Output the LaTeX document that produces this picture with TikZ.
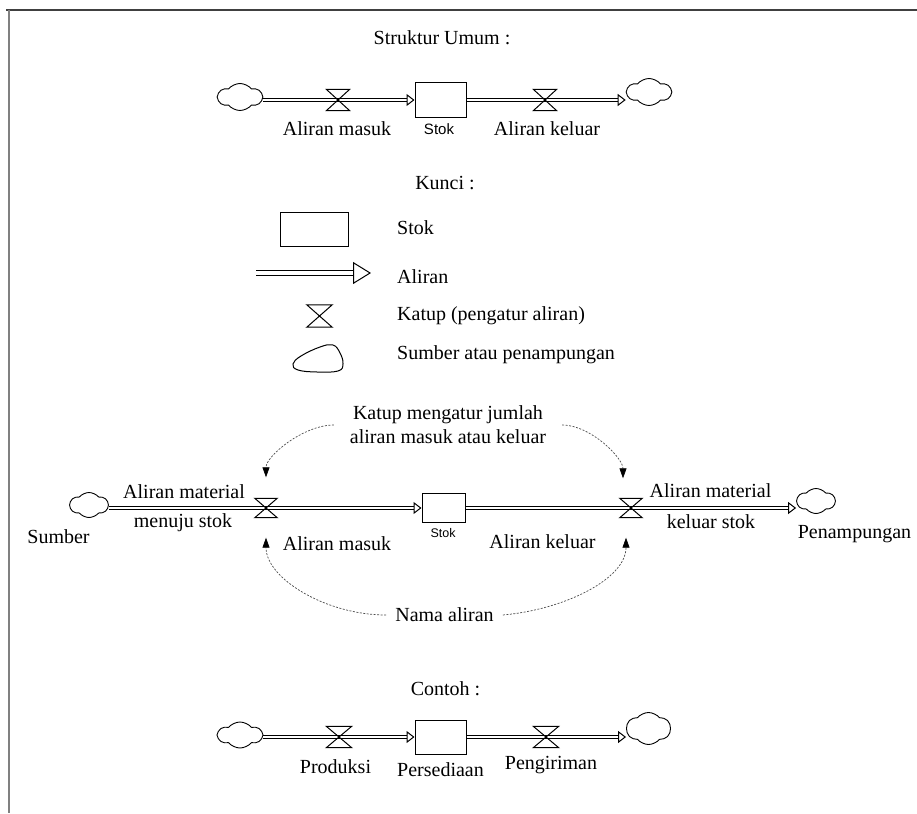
\documentclass[tikz,border=0pt]{standalone}
\usepackage{fontspec}
\setmainfont{Liberation Serif}
\setsansfont{Liberation Sans}
\usetikzlibrary{arrows.meta,shapes.symbols}
\tikzset{
  txt/.style={font=\fontsize{20}{24}\selectfont,inner sep=0pt},
  stoktxt/.style={font=\sffamily\fontsize{15}{18}\selectfont,inner sep=0pt},
  stokbox/.style={draw,line width=1pt,fill=white,inner sep=0pt},
  cloudy/.style={cloud,cloud puffs=6,cloud puff arc=100,aspect=1.6,draw,line width=0.9pt,inner sep=0pt,minimum width=44pt,minimum height=27pt},
  valve/.style={inner sep=0pt,minimum width=23pt,minimum height=21pt},
  pipe/.style={double,double distance=2pt,line width=1pt,-{Triangle[open,length=8pt,width=12pt]}},
  notearrow/.style={black!70,line width=0.7pt,dash pattern=on 2pt off 1.5pt,-{Triangle[color=black,length=10pt,width=7pt]}}
}
\begin{document}
\begin{tikzpicture}[x=1pt,y=-1pt]
  \useasboundingbox (0,0) rectangle (917,813);
  % frame
  \draw[line width=1.4pt,black!75] (6,10) -- (917,10);
  \draw[line width=2pt,gray] (9,10) -- (9,813);

  % Struktur umum
  \node[txt] (judul1) at (442,38) {Struktur Umum :};
  \node[cloudy] (sumber1) at (240,97) {};
  \node[stokbox,minimum width=51pt,minimum height=35pt] (stok1) at (440.5,100) {};
  \node[cloudy] (tampung1) at (649,92) {};
  \draw[pipe] (sumber1.east |- stok1) -- (stok1.west);
  \draw[pipe] (stok1.east) -- (tampung1.west |- stok1);
  \node[valve] (masuk1) at (338,100) {};
  \node[valve] (keluar1) at (545,100) {};
  \node[txt] at (337,129) {Aliran masuk};
  \node[stoktxt] at (439,129) {Stok};
  \node[txt] at (547,129) {Aliran keluar};

  % Kunci
  \node[txt] (judul2) at (445,183) {Kunci :};
  \node[stokbox,minimum width=68pt,minimum height=34pt] (kstok) at (314,229) {};
  \coordinate (kaliranA) at (256,273);
  \coordinate (kaliranB) at (371,273);
  \draw[double,double distance=4pt,line width=1pt,-{Triangle[open,length=18pt,width=22pt]}] (kaliranA) -- (kaliranB);
  \node[valve,minimum width=25pt,minimum height=22pt] (kkatup) at (319.5,316) {};
  \draw[line width=1pt] plot[smooth cycle,tension=0.7] coordinates {(293,364) (301,356) (320,347) (333,345) (340,353) (343,364) (338,371) (317,372) (298,370)};
  \node[txt,anchor=west] at (397,228) {Stok};
  \node[txt,anchor=west] at (397,277) {Aliran};
  \node[txt,anchor=west] at (397,316) {Katup (pengatur aliran)};
  \node[txt,anchor=west] at (397,355) {Sumber atau penampungan};

  % penjelasan
  \node[txt,align=center,inner sep=4pt] (katup) at (448,425) {Katup mengatur jumlah\\aliran masuk atau keluar};
  \node[cloudy,minimum width=38pt,minimum height=25pt] (sumber3) at (89,505) {};
  \node[stokbox,minimum width=43pt,minimum height=29pt] (stok3) at (443.5,508) {};
  \node[cloudy,minimum width=38pt,minimum height=25pt] (tampung3) at (816,501) {};
  \draw[pipe] (sumber3.east |- stok3) -- (stok3.west);
  \draw[pipe] (stok3.east) -- (tampung3.west |- stok3);
  \node[valve,minimum width=22pt,minimum height=19pt] (masuk3) at (266,508) {};
  \node[valve,minimum width=22pt,minimum height=19pt] (keluar3) at (631,508) {};
  \node[txt] at (184,492) {Aliran material};
  \node[txt] at (183,523) {menuju stok};
  \node[txt] at (58.5,537) {Sumber};
  \node[txt] at (337,544) {Aliran masuk};
  \node[stoktxt,font=\sffamily\fontsize{12.5}{15}\selectfont] at (443,533) {Stok};
  \node[txt] at (542.5,542) {Aliran keluar};
  \node[txt] at (710.5,491) {Aliran material};
  \node[txt] at (711,522) {keluar stok};
  \node[txt] at (854.5,534) {Penampungan};
  \node[txt,inner sep=9pt] (nama) at (444.5,615) {Nama aliran};
  \draw[notearrow,shorten <=12pt,shorten >=21pt] (katup.west) to[out=180,in=90] (masuk3.north);
  \draw[notearrow,shorten <=12pt,shorten >=20pt] (katup.east) to[out=0,in=90] ([xshift=-8pt]keluar3.north);
  \draw[notearrow,shorten >=20pt] (nama.west) to[out=180,in=-90] (masuk3.south);
  \draw[notearrow,shorten >=20pt] (nama.east) to[out=5,in=-90] ([xshift=-5pt]keluar3.south);

  % Contoh
  \node[txt] (judul3) at (445.5,689) {Contoh :};
  \node[cloudy,minimum height=26pt] (sumber4) at (240,735) {};
  \node[stokbox,minimum width=51pt,minimum height=34pt] (stok4) at (440.5,737) {};
  \node[cloudy,minimum height=32pt] (tampung4) at (648.5,728.5) {};
  \draw[pipe] (sumber4.east |- stok4) -- (stok4.west);
  \draw[pipe] (stok4.east) -- (tampung4.west |- stok4);
  \node[valve,minimum width=25pt] (masuk4) at (339,737) {};
  \node[valve,minimum width=25pt] (keluar4) at (546,737) {};
  \node[txt] at (335.5,767) {Produksi};
  \node[txt] at (440.5,770) {Persediaan};
  \node[txt] at (551,765) {Pengiriman};

  % katup (jam pasir)
  \foreach \v in {masuk1,keluar1,kkatup,masuk3,keluar3,masuk4,keluar4} {
    \draw[line width=1pt,line join=miter] (\v.north west) -- (\v.north east) -- (\v.south west) -- (\v.south east) -- cycle;
  }
\end{tikzpicture}
\end{document}
